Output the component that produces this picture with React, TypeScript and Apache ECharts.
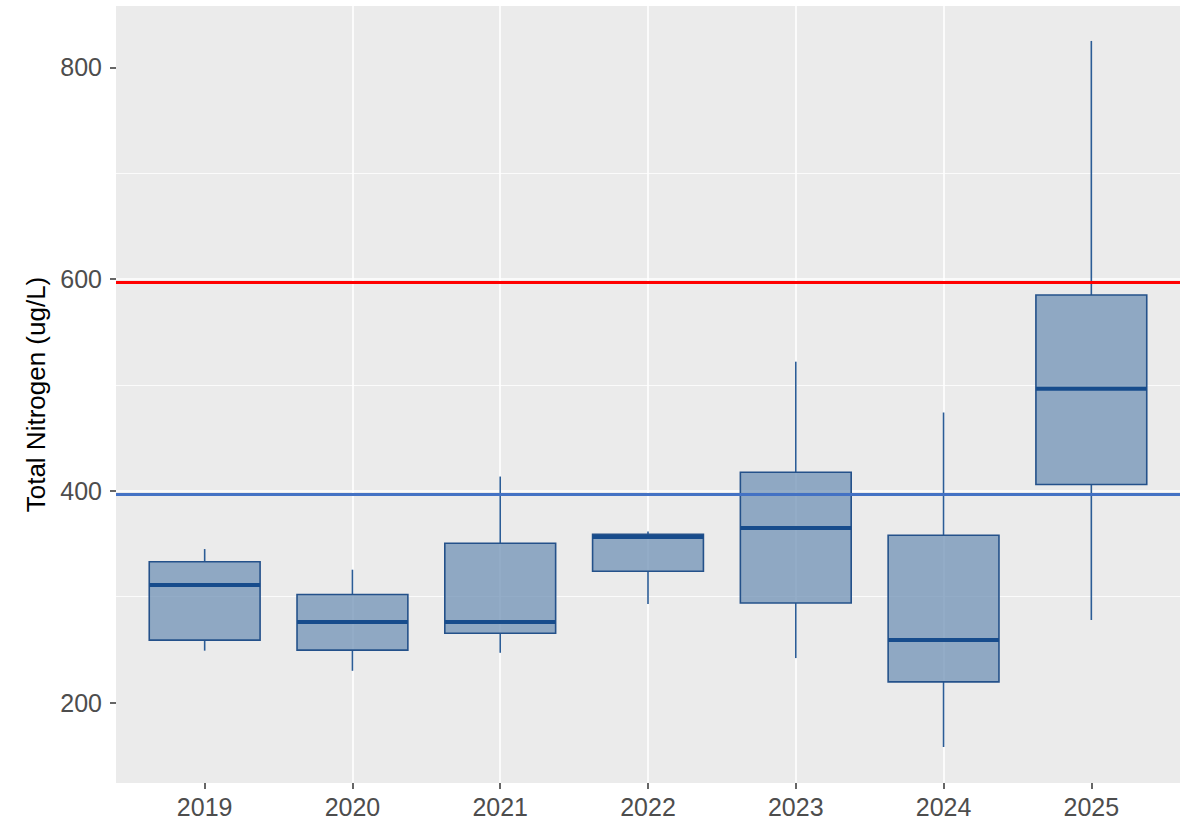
import React, { useEffect, useRef } from "react";
import * as echarts from "echarts";

const years = ["2019", "2020", "2021", "2022", "2023", "2024", "2025"];
const whiskerLow = [249, 230, 247, 293, 242, 158, 278];
const q1 = [259, 249.5, 265.5, 324, 294, 219.5, 406];
const median = [311, 276, 276, 356.5, 365, 259, 496.5];
const q3 = [333, 302, 350.5, 359, 417.5, 358, 585];
const whiskerHigh = [345, 325.5, 413.5, 361.5, 522, 474, 825];
const yTicks = [200, 400, 600, 800];
const yMinorGrid = [300, 500, 700];
const redLimit = 597;
const blueLimit = 397;

export default function App() {
  const ref = useRef<HTMLDivElement>(null);
  useEffect(() => {
    document.body.style.margin = "0";
    if (!ref.current) return;
    const chart = echarts.init(ref.current, null, { renderer: "svg" });
    const boxData = years.map((_, i) => [
      i + 1,
      whiskerLow[i],
      q1[i],
      median[i],
      q3[i],
      whiskerHigh[i],
    ]);
    const xPositions = years.map((_, i) => i + 1);
    const font = "Liberation Sans, Arial, sans-serif";
    chart.setOption({
      animation: false,
      backgroundColor: "#ffffff",
      grid: {
        left: 116,
        top: 6,
        right: 8,
        bottom: 39,
        show: true,
        backgroundColor: "#EBEBEB",
        borderWidth: 0,
      },
      xAxis: {
        type: "value",
        min: 0.4,
        max: 7.6,
        splitNumber: 7,
        minInterval: 1,
        maxInterval: 1,
        axisLine: { show: false },
        axisTick: {
          show: true,
          customValues: xPositions,
          length: 6,
          lineStyle: { color: "#333333", width: 1.5 },
        },
        axisLabel: {
          show: true,
          customValues: xPositions,
          formatter: (v: number) => years[Math.round(v) - 1] ?? "",
          color: "#4D4D4D",
          fontSize: 25,
          fontFamily: font,
          margin: 11,
        },
        splitLine: {
          show: true,
          showMinLine: false,
          showMaxLine: false,
          lineStyle: { color: "#FFFFFF", width: 1.6 },
        },
      },
      yAxis: {
        type: "value",
        min: 124,
        max: 858,
        minInterval: 200,
        maxInterval: 200,
        name: "Total Nitrogen (ug/L)",
        nameLocation: "middle",
        nameGap: 66,
        nameTextStyle: {
          color: "#000000",
          fontSize: 26,
          fontFamily: font,
        },
        axisLine: { show: false },
        axisTick: {
          show: true,
          customValues: yTicks,
          length: 6,
          lineStyle: { color: "#333333", width: 1.5 },
        },
        axisLabel: {
          show: true,
          customValues: yTicks,
          color: "#4D4D4D",
          fontSize: 25,
          fontFamily: font,
          margin: 14,
        },
        splitLine: {
          show: true,
          showMinLine: false,
          showMaxLine: false,
          lineStyle: { color: "#FFFFFF", width: 1.6 },
        },
      },
      series: [
        {
          type: "line",
          data: [],
          z: 1,
          silent: true,
          markLine: {
            silent: true,
            z: 1,
            symbol: ["none", "none"],
            label: { show: false },
            lineStyle: { color: "#FFFFFF", width: 0.8, type: "solid" },
            data: yMinorGrid.map((v) => ({ yAxis: v })),
          },
        },
        {
          type: "custom",
          z: 3,
          data: boxData,
          encode: { x: 0, y: [1, 2, 3, 4, 5] },
          renderItem: (params: any, api: any) => {
            const x = api.value(0);
            const lo = api.coord([x, api.value(1)]);
            const b1 = api.coord([x, api.value(2)]);
            const md = api.coord([x, api.value(3)]);
            const b3 = api.coord([x, api.value(4)]);
            const hi = api.coord([x, api.value(5)]);
            const w = api.size([0.75, 0])[0];
            const cx = lo[0];
            const left = cx - w / 2;
            return {
              type: "group",
              children: [
                {
                  type: "line",
                  shape: { x1: cx, y1: hi[1], x2: cx, y2: b3[1] },
                  style: { stroke: "#2B5C96", lineWidth: 1.6 },
                },
                {
                  type: "line",
                  shape: { x1: cx, y1: b1[1], x2: cx, y2: lo[1] },
                  style: { stroke: "#2B5C96", lineWidth: 1.6 },
                },
                {
                  type: "rect",
                  shape: { x: left, y: b3[1], width: w, height: b1[1] - b3[1] },
                  style: {
                    fill: "rgba(112,145,182,0.75)",
                    stroke: "#24518A",
                    lineWidth: 1.6,
                  },
                },
                {
                  type: "line",
                  shape: { x1: left, y1: md[1], x2: left + w, y2: md[1] },
                  style: { stroke: "#174C8C", lineWidth: 4 },
                },
              ],
            };
          },
        },
        {
          type: "line",
          data: [],
          z: 5,
          silent: true,
          markLine: {
            silent: true,
            z: 10,
            symbol: ["none", "none"],
            label: { show: false },
            data: [
              { yAxis: redLimit, lineStyle: { color: "#FF0000", width: 3, type: "solid" } },
              { yAxis: blueLimit, lineStyle: { color: "#4472C4", width: 3, type: "solid" } },
            ],
          },
        },
      ],
    });
    return () => chart.dispose();
  }, []);
  return <div ref={ref} style={{ width: 1188, height: 822 }} />;
}
